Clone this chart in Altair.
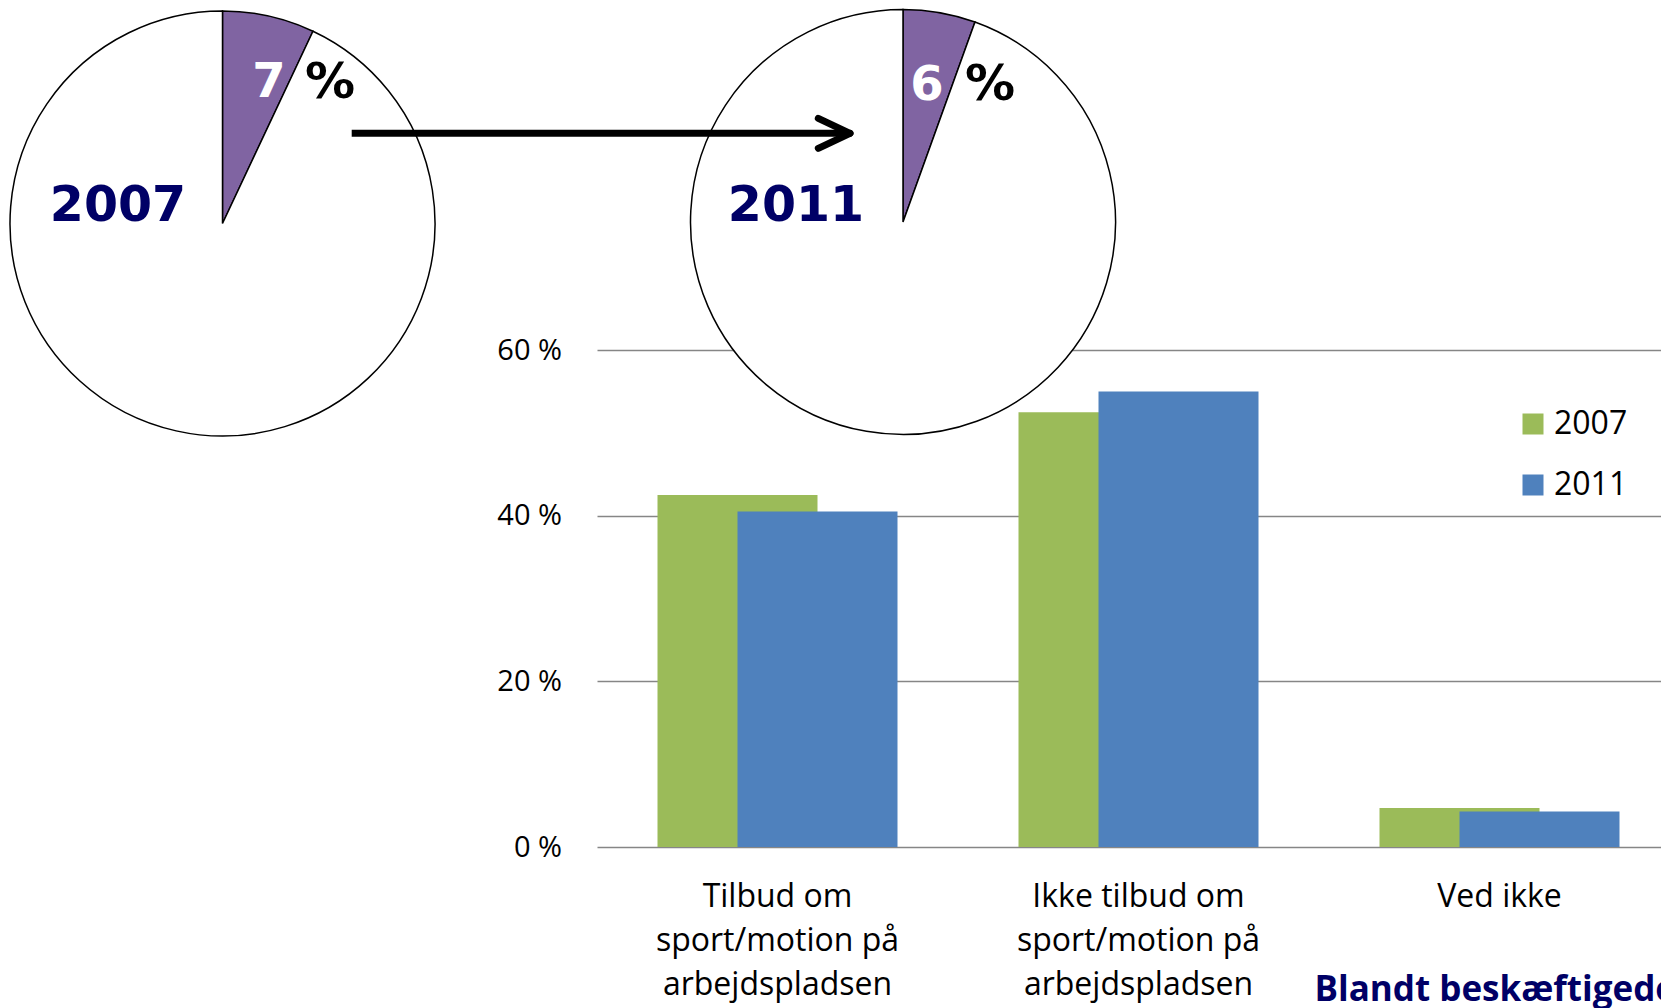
import altair as alt
import pandas as pd

# ---------------- data ----------------
categories = [
    "Tilbud om\nsport/motion på\narbejdspladsen",
    "Ikke tilbud om\nsport/motion på\narbejdspladsen",
    "Ved ikke",
]
years = ["2007", "2011"]
values_2007 = [42.5, 52.5, 4.7]
values_2011 = [40.5, 55.0, 4.3]
y_ticks = [0, 20, 40, 60]

pie_years = ["2007", "2011"]
pie_shares = [7.0, 5.5]
pie_labels = ["7", "6"]
subtitle = "Blandt beskæftigede"

# ---------------- styles ----------------
GREEN = "#9BBB59"
BLUE = "#4F81BD"
PURPLE = "#8064A2"
NAVY = "#000066"
FONT = "Open Sans"
PIE_FONT = "DejaVu Sans"

rows = []
for i, c in enumerate(categories):
    rows.append({"category": c, "year": years[0], "value": values_2007[i]})
    rows.append({"category": c, "year": years[1], "value": values_2011[i]})
bars_df = pd.DataFrame(rows)

x_enc = alt.X(
    "category:N",
    sort=categories,
    scale=alt.Scale(range=[0, 1083], paddingInner=0, paddingOuter=0),
    axis=alt.Axis(
        title=subtitle,
        labelExpr="split(datum.label, '\\n')",
        labelAngle=0,
        labelFont=FONT,
        labelFontSize=32,
        labelColor="black",
        labelLineHeight=44,
        labelBaseline="alphabetic",
        labelPadding=59,
        labelLimit=500,
        ticks=False,
        domain=False,
        grid=False,
        titleX=717,
        titleY=153,
        titleAlign="left",
        titleAnchor="start",
        titleBaseline="alphabetic",
        titleFont=FONT,
        titleFontSize=35,
        titleFontWeight="bold",
        titleColor=NAVY,
        titleLimit=1000,
    ),
)
y_enc = alt.Y(
    "value:Q",
    scale=alt.Scale(domain=[0, 60], nice=False),
    axis=alt.Axis(
        values=y_ticks,
        labelExpr="datum.value + ' %'",
        title=None,
        ticks=False,
        domain=False,
        labelPadding=35.5,
        labelFont=FONT,
        labelFontSize=29,
        labelColor="black",
        gridColor="#868686",
        gridWidth=1.6,
    ),
)
color_enc = alt.Color(
    "year:N",
    scale=alt.Scale(domain=years, range=[GREEN, BLUE]),
    legend=alt.Legend(
        title=None,
        orient="none",
        legendX=920,
        legendY=58,
        symbolType="square",
        symbolSize=441,
        symbolStrokeWidth=0,
        labelFont=FONT,
        labelFontSize=32,
        labelColor="black",
        labelOffset=5,
        rowPadding=29,
        padding=0,
        offset=0,
    ),
)

bar07 = (
    alt.Chart(bars_df)
    .transform_filter(alt.datum.year == years[0])
    .mark_bar(width=160, xOffset=-40)
    .encode(x=x_enc, y=y_enc, color=color_enc)
)
bar11 = (
    alt.Chart(bars_df)
    .transform_filter(alt.datum.year == years[1])
    .mark_bar(width=160, xOffset=40)
    .encode(x=x_enc, y=y_enc, color=color_enc)
)

# pie centres / label spots relative to plot origin (layout only)
pie_pos = [(-374.5, -126.5), (306, -128)]
share_pos = [(-328, -253), (330, -250)]
pct_pos = [(-267, -252), (393, -250)]
year_pos = [(-479, -129), (199, -129)]

layers = [bar07, bar11]
for i in range(2):
    d = pd.DataFrame(
        {
            "part": ["andel", "rest"],
            "value": [pie_shares[i], 100 - pie_shares[i]],
            "fill": [PURPLE, "white"],
            "order": [0, 1],
        }
    )
    pie = (
        alt.Chart(d)
        .mark_arc(outerRadius=212.5, stroke="black", strokeWidth=1.5)
        .encode(
            theta=alt.Theta("value:Q", stack=True, scale=alt.Scale(domain=[0, 100])),
            fill=alt.Fill("fill:N", scale=None),
            order=alt.Order("order:Q"),
            x=alt.value(pie_pos[i][0]),
            y=alt.value(pie_pos[i][1]),
        )
    )
    layers.append(pie)
    share_txt = (
        alt.Chart(pd.DataFrame({"t": [pie_labels[i]]}))
        .mark_text(font=PIE_FONT, fontWeight="bold", fontSize=48, color="white",
                   align="center", baseline="alphabetic")
        .encode(text="t:N", x=alt.value(share_pos[i][0]), y=alt.value(share_pos[i][1]))
    )
    pct_txt = (
        alt.Chart(pd.DataFrame({"t": ["%"]}))
        .mark_text(font=PIE_FONT, fontWeight="bold", fontSize=50, color="black",
                   align="center", baseline="alphabetic")
        .encode(text="t:N", x=alt.value(pct_pos[i][0]), y=alt.value(pct_pos[i][1]))
    )
    year_txt = (
        alt.Chart(pd.DataFrame({"t": [pie_years[i]]}))
        .mark_text(font=PIE_FONT, fontWeight="bold", fontSize=49, color=NAVY,
                   align="center", baseline="alphabetic")
        .encode(text="t:N", x=alt.value(year_pos[i][0]), y=alt.value(year_pos[i][1]))
    )
    layers += [share_txt, pct_txt, year_txt]

one = pd.DataFrame({"a": [0]})
shaft = (
    alt.Chart(one)
    .mark_rule(strokeWidth=7, color="black")
    .encode(x=alt.value(-245.3), x2=alt.value(249), y=alt.value(-216.7))
)
arm1 = (
    alt.Chart(one)
    .mark_rule(strokeWidth=7, color="black", strokeCap="round")
    .encode(x=alt.value(221.3), y=alt.value(-231.7), x2=alt.value(253), y2=alt.value(-216.7))
)
arm2 = (
    alt.Chart(one)
    .mark_rule(strokeWidth=7, color="black", strokeCap="round")
    .encode(x=alt.value(221.3), y=alt.value(-201.7), x2=alt.value(253), y2=alt.value(-216.7))
)
layers += [shaft, arm1, arm2]

chart = (
    alt.layer(*layers)
    .properties(
        width=1064,
        height=497,
        padding={"left": 589, "top": 342, "right": 0, "bottom": 161},
        autosize=alt.AutoSizeParams(type="none"),
    )
    .configure_view(stroke=None)
)

chart.save("out.html", embed_options={"renderer": "svg", "actions": False})
